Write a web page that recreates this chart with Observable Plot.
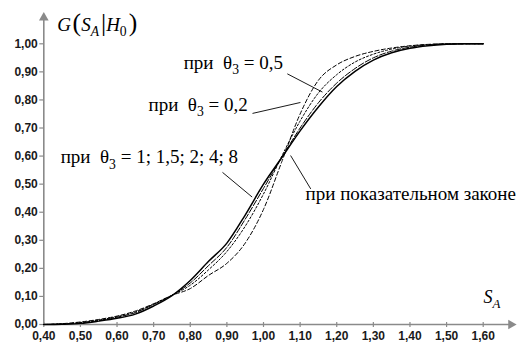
<!DOCTYPE html>
<html>
<head>
<meta charset="utf-8">
<script src="https://cdn.jsdelivr.net/npm/d3@7"></script>
<script src="https://cdn.jsdelivr.net/npm/@observablehq/plot@0.6"></script>
<style>
  html, body { margin: 0; padding: 0; background: #fff; }
  svg text { white-space: pre; }
</style>
</head>
<body>
<div id="chart"></div>
<script>
// Grid of S_A values (x)
const sGrid = [0.40,0.45,0.50,0.55,0.60,0.65,0.70,0.75,0.80,0.85,0.90,0.95,1.00,1.05,1.10,1.15,1.20,1.25,1.30,1.35,1.40,1.45,1.50,1.55,1.60];
// G(S_A|H0) curves
const gExp   = [0,0.001,0.004,0.012,0.022,0.037,0.066,0.103,0.157,0.225,0.290,0.390,0.500,0.595,0.690,0.775,0.848,0.902,0.942,0.968,0.984,0.993,0.998,1.0,1.0];
const gTh1_8 = [0,0.002,0.006,0.014,0.026,0.042,0.072,0.104,0.148,0.210,0.275,0.375,0.485,0.595,0.700,0.790,0.860,0.912,0.950,0.974,0.988,0.996,0.999,1.0,1.0];
const gTh05  = [0,0.002,0.007,0.016,0.028,0.045,0.072,0.104,0.140,0.195,0.260,0.350,0.465,0.600,0.725,0.825,0.890,0.935,0.963,0.981,0.992,0.997,1.0,1.0,1.0];
const gTh02  = [0,0.003,0.009,0.018,0.030,0.048,0.074,0.104,0.128,0.175,0.218,0.290,0.410,0.580,0.750,0.870,0.925,0.955,0.973,0.985,0.993,0.998,1.0,1.0,1.0];

// Axis ticks
const xTicks = [0.40,0.50,0.60,0.70,0.80,0.90,1.00,1.10,1.20,1.30,1.40,1.50,1.60];
const yTicks = [0.00,0.10,0.20,0.30,0.40,0.50,0.60,0.70,0.80,0.90,1.00];

// Axis titles
const yTitle = "G(S_A|H_0)";
const xTitle = "S_A";

// Annotation labels (text, anchor point in data units)
const labelText = ["при\u00A0\u00A0θ_3 = 0,5", "при\u00A0\u00A0θ_3 = 0,2", "при\u00A0\u00A0θ_3 = 1; 1,5; 2; 4; 8", "при показательном законе"];
const labelX = [0.782, 0.686, 0.446, 1.115];
const labelY = [0.912, 0.762, 0.574, 0.442];
// Leader lines
const leadX1 = [1.065, 0.970, 0.888, 1.074];
const leadY1 = [0.893, 0.752, 0.542, 0.602];
const leadX2 = [1.161, 1.101, 0.969, 1.129];
const leadY2 = [0.828, 0.791, 0.454, 0.483];

const series = [
  {name: "exp",  g: gExp,   dash: null,    w: 1.5},
  {name: "1-8",  g: gTh1_8, dash: "6,2",   w: 1.0},
  {name: "0.5",  g: gTh05,  dash: "2,2",   w: 1.0},
  {name: "0.2",  g: gTh02,  dash: "4,2.5", w: 1.0}
];

const fmt = d => d.toFixed(2).replace(".", ",");
const axisGray = "#8a8a8a";
const serif = "'Liberation Serif', 'Times New Roman', 'DejaVu Serif', serif";
const pxX = 1 / 366, pxY = 1 / 280.7;

const labels = labelText.map((t, i) => ({t, x: labelX[i], y: labelY[i]}));
const leads = leadX1.map((_, i) => ({x1: leadX1[i], y1: leadY1[i], x2: leadX2[i], y2: leadY2[i]}));

const marks = [
  // axis lines
  Plot.ruleY([0], {x1: 0.40, x2: 1.672, stroke: axisGray, strokeWidth: 1.6}),
  Plot.ruleX([0.40], {y1: 0, y2: 1.088, stroke: axisGray, strokeWidth: 1.6}),
  Plot.dot([{x: 1.676, y: 0}], {x: "x", y: "y", symbol: "triangle", rotate: 90, r: 3.6, fill: axisGray, stroke: null}),
  Plot.dot([{x: 0.40, y: 1.093}], {x: "x", y: "y", symbol: "triangle", r: 3.6, fill: axisGray, stroke: null}),
  // ticks
  Plot.ruleX(xTicks, {x: d => d, y1: -3 * pxY, y2: 2 * pxY, stroke: axisGray, strokeWidth: 1.2}),
  Plot.ruleY(yTicks, {y: d => d, x1: 0.40 - 4 * pxX, x2: 0.40, stroke: axisGray, strokeWidth: 1.2}),
  Plot.axisX(xTicks, {tickSize: 0, tickPadding: 7, tickFormat: fmt, fontWeight: "bold", fontSize: 12, color: "#1a1a1a"}),
  Plot.axisY(yTicks, {tickSize: 0, tickPadding: 6, tickFormat: fmt, fontWeight: "bold", fontSize: 12, color: "#1a1a1a"}),
  // curves
  ...series.map(s => Plot.line(sGrid.map((x, i) => ({x, y: s.g[i]})), {
    x: "x", y: "y", stroke: "#000", strokeWidth: s.w, strokeDasharray: s.dash, curve: "monotone-x"
  })),
  // leader lines
  Plot.link(leads, {x1: "x1", y1: "y1", x2: "x2", y2: "y2", stroke: "#000", strokeWidth: 0.9}),
  // labels
  Plot.text(labels, {x: "x", y: "y", text: "t", textAnchor: "start", lineAnchor: "bottom",
    fontFamily: serif, fontSize: 19, fill: "#000", className: "serif-label"}),
  // axis titles
  Plot.text([{x: 0.437, y: 1.047, t: yTitle}], {x: "x", y: "y", text: "t", textAnchor: "start", lineAnchor: "bottom",
    fontFamily: serif, fontSize: 19, fill: "#000", className: "serif-label"}),
  Plot.text([{x: 1.601, y: 0.078, t: xTitle}], {x: "x", y: "y", text: "t", textAnchor: "start", lineAnchor: "bottom",
    fontFamily: serif, fontStyle: "italic", fontSize: 18, fill: "#000", className: "serif-label"})
];

const chart = Plot.plot({
  width: 524,
  height: 356,
  marginLeft: 43.3,
  marginRight: 41.3,
  marginTop: 43.3,
  marginBottom: 32,
  x: {domain: [0.40, 1.60]},
  y: {domain: [0, 1]},
  style: {fontFamily: "Liberation Sans", background: "#fff", overflow: "visible"},
  marks
});
document.getElementById("chart").appendChild(chart);

const NS = "http://www.w3.org/2000/svg";
const labelSet = new Set([...labelText, yTitle, xTitle]);
// Force serif font on annotation texts; render "_X" as subscript tspans
chart.querySelectorAll("text").forEach(t => {
  const s = t.textContent;
  if (!labelSet.has(s)) return;
  t.style.fontFamily = serif;
  if (!s.includes("_")) return;
  const fs = parseFloat(getComputedStyle(t).fontSize) || 16;
  const isTitle = s === yTitle;
  const shift = fs * 0.28;
  const parts = s.split(/_(.)/);
  t.textContent = "";
  let prevSub = false;
  const add = (txt, opts) => {
    const ts = document.createElementNS(NS, "tspan");
    ts.textContent = txt;
    if (opts.dy) ts.setAttribute("dy", opts.dy);
    if (opts.size) ts.setAttribute("font-size", opts.size);
    if (opts.italic) ts.setAttribute("font-style", "italic");
    if (opts.dx) ts.setAttribute("dx", opts.dx);
    t.appendChild(ts);
  };
  parts.forEach((p, i) => {
    if (p === "" && i % 2 === 0) return;
    if (i % 2 === 1) {
      add(p, {dy: shift, size: fs * 0.72, italic: /[A-Za-z]/.test(p)});
      prevSub = true;
    } else {
      let first = true;
      for (const ch of p) {
        const opts = {};
        if (first && prevSub) { opts.dy = -shift; prevSub = false; }
        first = false;
        if (isTitle) {
          if (/[()|]/.test(ch)) { opts.size = fs * 1.35; opts.dx = ch === "(" ? 1.5 : 2; }
          else opts.italic = true;
        }
        add(ch, opts);
      }
    }
  });
});
</script>
</body>
</html>
